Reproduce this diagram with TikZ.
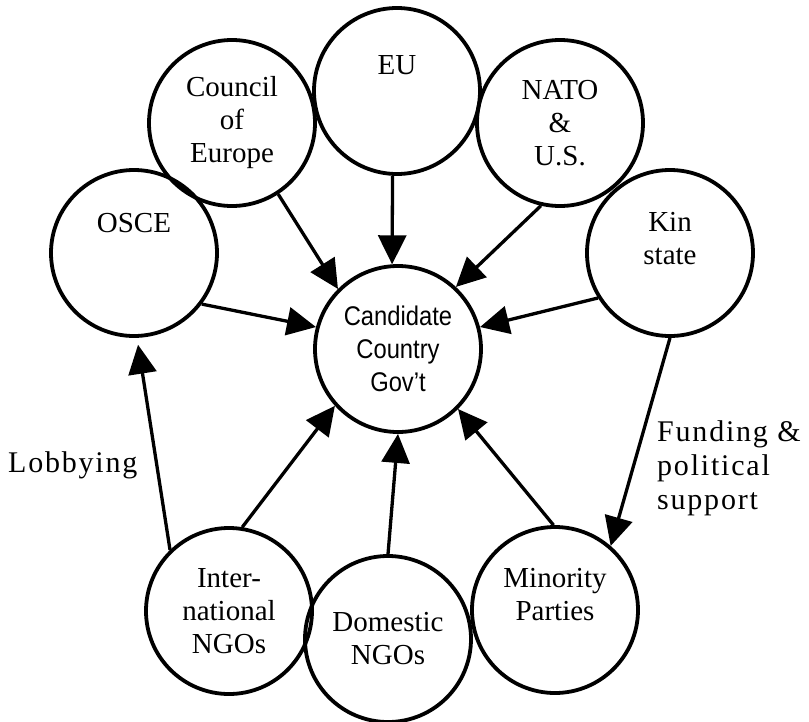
\documentclass[tikz,border=0pt]{standalone}
\usepackage{fontspec}
\setmainfont{Liberation Serif}
\newfontfamily\govfont[FakeStretch=0.88]{Liberation Sans}
\newfontfamily\notefont[LetterSpace=6]{Liberation Serif}
\usetikzlibrary{arrows.meta}

\begin{document}
\begin{tikzpicture}[
	x=1pt, y=-1pt,
	font=\fontsize{29}{33}\selectfont,
	>={Triangle[length=29pt,width=28pt]},
	actor/.style={circle, draw, line width=3.8pt, minimum size=166pt, inner sep=0pt, align=center},
	govt/.style={actor, font=\govfont\fontsize{27}{33}\selectfont},
	inside/.style={align=center, inner sep=0pt},
	note/.style={font=\notefont\fontsize{30}{34}\selectfont, inner sep=0pt, align=left},
	flow/.style={->, line width=3.3pt}
]
\useasboundingbox (0,0) rectangle (809,721);

% --- centre ---
\node[govt] (gov) at (398,349) {Candidate\\Country\\Gov’t};

% --- outside actors ---
\node[actor, label={[inside, yshift=26pt]center:EU}] (eu) at (397,91) {};
\node[actor] (council) at (232,123) {Council\\of\\Europe};
\node[actor] (nato) at (560,123) {NATO\\\&\\U.S.};
\node[actor, label={[inside, yshift=30pt]center:OSCE}] (osce) at (134,253) {};
\node[actor, label={[inside, yshift=14pt]center:Kin\\state}] (kin) at (670,253) {};

% --- domestic side ---
\node[actor] (intl) at (229,611) {Inter-\\national\\NGOs};
\node[actor] (dom) at (388,639) {Domestic\\NGOs};
\node[actor, label={[inside, yshift=15pt]center:Minority\\Parties}] (minor) at (555,610) {};

% --- edges ---
\draw[flow] (council.-57) -- (gov.135);
\draw[flow] (eu.-93) -- (gov.94);
\draw[flow] (nato.-103) -- (gov.47);
\draw[flow] (osce.-37) -- (gov.165);
\draw[flow] (kin.-148) -- (gov.15);
\draw[flow] (intl.81) -- (gov.-138);
\draw[flow] (dom.90) -- (gov.-90);
\draw[flow] (minor.91) -- (gov.-45);
\draw[flow, shorten >=7pt] (intl.134) -- (osce.-88);
\draw[flow] (kin.-90) -- (minor.49);

\node[note, anchor=base west] (lobby) at (8,472) {Lobbying};
\node[note, anchor=north west] (fund) at (657,420) {Funding \&\\political\\support};

\end{tikzpicture}
\end{document}
